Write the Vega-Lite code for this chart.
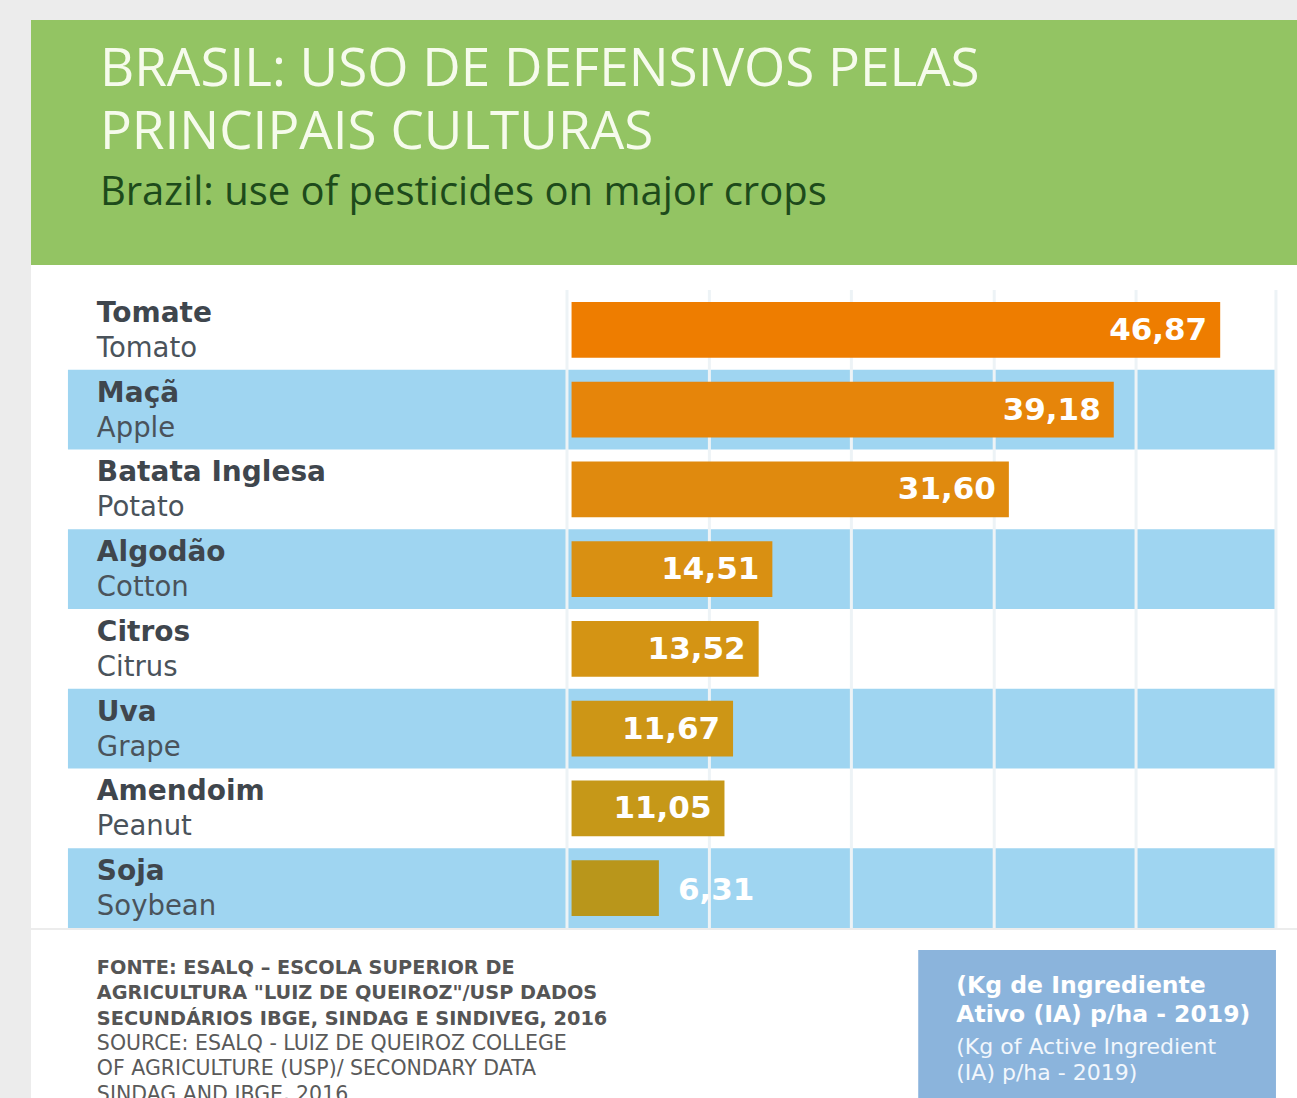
{
  "$schema": "https://vega.github.io/schema/vega-lite/v6.json",
  "background": "#ececec",
  "padding": {"left": 31, "top": 20, "right": 0, "bottom": 0},
  "spacing": 0,
  "config": {
    "view": {"stroke": null},
    "locale": {"number": {"decimal": ",", "thousands": ".", "grouping": [3], "currency": ["R$", ""]}}
  },
  "vconcat": [
    {
      "width": 1266,
      "height": 245,
      "view": {"fill": "#93c463", "stroke": null},
      "data": {"values": [{}]},
      "layer": [
        {
          "mark": {"type": "text", "align": "left", "baseline": "alphabetic", "font": "Open Sans", "fontSize": 53, "lineHeight": 63, "color": "#f6fbec"},
          "encoding": {
            "text": {"value": ["BRASIL: USO DE DEFENSIVOS PELAS", "PRINCIPAIS CULTURAS"]},
            "x": {"datum": -34.08, "type": "quantitative", "scale": {"domain": [-39.06, 52.42], "nice": false, "zero": false}, "axis": null},
            "y": {"datum": 66, "type": "quantitative", "scale": {"domain": [0, 245], "reverse": true, "nice": false}, "axis": null}
          }
        },
        {
          "mark": {"type": "text", "align": "left", "baseline": "alphabetic", "font": "Open Sans", "fontSize": 40, "color": "#1d4a1b"},
          "encoding": {
            "text": {"value": "Brazil: use of pesticides on major crops"},
            "x": {"datum": -34.08, "type": "quantitative"},
            "y": {"datum": 185, "type": "quantitative"}
          }
        }
      ]
    },
    {
      "width": 1266,
      "height": 663,
      "view": {"fill": "#ffffff", "stroke": null},
      "data": {"values": [
        {"pt": "Tomate", "en": "Tomato", "v": 46.87, "n": 1},
        {"pt": "Maçã", "en": "Apple", "v": 39.18, "n": 2},
        {"pt": "Batata Inglesa", "en": "Potato", "v": 31.60, "n": 3},
        {"pt": "Algodão", "en": "Cotton", "v": 14.51, "n": 4},
        {"pt": "Citros", "en": "Citrus", "v": 13.52, "n": 5},
        {"pt": "Uva", "en": "Grape", "v": 11.67, "n": 6},
        {"pt": "Amendoim", "en": "Peanut", "v": 11.05, "n": 7},
        {"pt": "Soja", "en": "Soybean", "v": 6.31, "n": 8}
      ]},
      "layer": [
        {
          "transform": [{"filter": "datum.n % 2 == 0"}],
          "mark": {"type": "rect", "color": "#9fd5f1"},
          "encoding": {
            "y": {"field": "pt", "type": "nominal", "scale": {"domain": ["Tomate", "Maçã", "Batata Inglesa", "Algodão", "Citros", "Uva", "Amendoim", "Soja"], "range": [25, 663], "paddingInner": 0, "paddingOuter": 0}, "axis": null},
            "x": {"datum": -36.39, "type": "quantitative", "scale": {"domain": [-39.06, 52.42], "nice": false, "zero": false}, "axis": null},
            "x2": {"datum": 50.9}
          }
        },
        {
          "data": {"values": [{"g": -0.33}, {"g": 9.96}, {"g": 20.22}, {"g": 30.54}, {"g": 40.79}, {"g": 50.9}]},
          "mark": {"type": "rule", "color": "#edf3f6", "strokeWidth": 3},
          "encoding": {
            "x": {"field": "g", "type": "quantitative"},
            "y": {"datum": "Tomate", "type": "nominal", "bandPosition": 0},
            "y2": {"datum": "Soja", "bandPosition": 1}
          }
        },
        {
          "mark": {"type": "bar", "height": {"band": 0.7}},
          "encoding": {
            "y": {"field": "pt", "type": "nominal"},
            "x": {"field": "v", "type": "quantitative"},
            "color": {"field": "pt", "type": "nominal", "scale": {"domain": ["Tomate", "Maçã", "Batata Inglesa", "Algodão", "Citros", "Uva", "Amendoim", "Soja"], "range": ["#ee7d00", "#e6850a", "#e08a0e", "#d99012", "#d49414", "#cd9616", "#c69818", "#b9961b"]}, "legend": null}
          }
        },
        {
          "mark": {"type": "text", "align": "left", "baseline": "alphabetic", "font": "DejaVu Sans", "fontWeight": "bold", "fontSize": 28, "color": "#3f464d", "dy": -8},
          "encoding": {
            "y": {"field": "pt", "type": "nominal"},
            "x": {"datum": -34.3, "type": "quantitative"},
            "text": {"field": "pt"}
          }
        },
        {
          "mark": {"type": "text", "align": "left", "baseline": "alphabetic", "font": "DejaVu Sans", "fontSize": 27.5, "color": "#4a535b", "dy": 27},
          "encoding": {
            "y": {"field": "pt", "type": "nominal"},
            "x": {"datum": -34.3, "type": "quantitative"},
            "text": {"field": "en"}
          }
        },
        {
          "transform": [{"filter": "datum.v >= 10"}],
          "mark": {"type": "text", "align": "right", "baseline": "middle", "font": "DejaVu Sans", "fontWeight": "bold", "fontSize": 31, "color": "#ffffff", "dx": -13, "dy": 1},
          "encoding": {
            "y": {"field": "pt", "type": "nominal"},
            "x": {"field": "v", "type": "quantitative"},
            "text": {"field": "v", "type": "quantitative", "format": ".2f"}
          }
        },
        {
          "transform": [{"filter": "datum.v < 10"}],
          "mark": {"type": "text", "align": "left", "baseline": "middle", "font": "DejaVu Sans", "fontWeight": "bold", "fontSize": 31, "color": "#ffffff", "dx": 19, "dy": 3},
          "encoding": {
            "y": {"field": "pt", "type": "nominal"},
            "x": {"field": "v", "type": "quantitative"},
            "text": {"field": "v", "type": "quantitative", "format": ".2f"}
          }
        }
      ]
    },
    {
      "width": 1266,
      "height": 170,
      "view": {"fill": "#ffffff", "stroke": null},
      "data": {"values": [{}]},
      "layer": [
        {
          "mark": {"type": "rect", "color": "#8bb4dc"},
          "encoding": {
            "x": {"datum": 25.05, "type": "quantitative", "scale": {"domain": [-39.06, 52.42], "nice": false, "zero": false}, "axis": null},
            "x2": {"datum": 50.9},
            "y": {"datum": 20, "type": "quantitative", "scale": {"domain": [0, 170], "reverse": true, "nice": false}, "axis": null},
            "y2": {"datum": 170}
          }
        },
        {
          "mark": {"type": "text", "align": "left", "baseline": "alphabetic", "font": "DejaVu Sans", "fontWeight": "bold", "fontSize": 19.3, "lineHeight": 25.3, "color": "#555555"},
          "encoding": {
            "text": {"value": ["FONTE: ESALQ – ESCOLA SUPERIOR DE", "AGRICULTURA \"LUIZ DE QUEIROZ\"/USP DADOS", "SECUNDÁRIOS IBGE, SINDAG E SINDIVEG, 2016"]},
            "x": {"datum": -34.3, "type": "quantitative"},
            "y": {"datum": 44, "type": "quantitative"}
          }
        },
        {
          "mark": {"type": "text", "align": "left", "baseline": "alphabetic", "font": "DejaVu Sans", "fontSize": 20.5, "lineHeight": 25.3, "color": "#5a5a5a"},
          "encoding": {
            "text": {"value": ["SOURCE: ESALQ - LUIZ DE QUEIROZ COLLEGE", "OF AGRICULTURE (USP)/ SECONDARY DATA", "SINDAG AND IBGE, 2016"]},
            "x": {"datum": -34.3, "type": "quantitative"},
            "y": {"datum": 120, "type": "quantitative"}
          }
        },
        {
          "mark": {"type": "text", "align": "left", "baseline": "alphabetic", "font": "DejaVu Sans", "fontWeight": "bold", "fontSize": 23.5, "lineHeight": 29, "color": "#ffffff"},
          "encoding": {
            "text": {"value": ["(Kg de Ingrediente", "Ativo (IA) p/ha - 2019)"]},
            "x": {"datum": 27.8, "type": "quantitative"},
            "y": {"datum": 63, "type": "quantitative"}
          }
        },
        {
          "mark": {"type": "text", "align": "left", "baseline": "alphabetic", "font": "DejaVu Sans", "fontSize": 22, "lineHeight": 26, "color": "#f2f7fc"},
          "encoding": {
            "text": {"value": ["(Kg of Active Ingredient", "(IA) p/ha - 2019)"]},
            "x": {"datum": 27.8, "type": "quantitative"},
            "y": {"datum": 124, "type": "quantitative"}
          }
        }
      ]
    }
  ]
}
